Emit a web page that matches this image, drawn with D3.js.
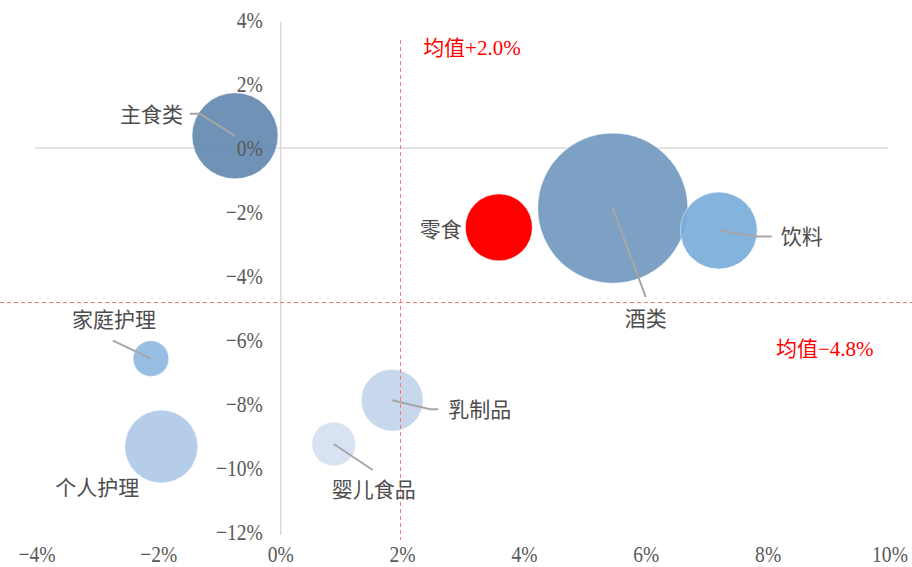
<!DOCTYPE html>
<html>
<head>
<meta charset="utf-8">
<script src="https://cdn.jsdelivr.net/npm/d3@7"></script>
<style>
	body { margin: 0; background: #fff; }
	.tick-label { font-family: "Liberation Serif", serif; font-size: 23px; fill: #595959; }
	.cat-label { font-family: "Noto Sans CJK SC", sans-serif; font-size: 21px; fill: #4d4d4d; }
	.mean-label { font-family: "Liberation Serif", "Noto Sans CJK SC", serif; font-size: 21px; fill: #ff0000; }
</style>
</head>
<body>
<script>
// category data
const categories = ["主食类", "零食", "酒类", "饮料", "家庭护理", "个人护理", "乳制品", "婴儿食品"];
const growthX = [-0.75, 3.58, 5.45, 7.19, -2.13, -1.96, 1.83, 0.87];
const growthY = [0.38, -2.48, -1.88, -2.58, -6.58, -9.33, -7.88, -9.25];
const sizes = [18.5, 11.2, 56.3, 14.8, 3.2, 13.3, 9.6, 4.8];
const colors = ["#6489b0", "#ff0000", "#7299bf", "#7aaddb", "#8fb9e2", "#b0c9e8", "#c2d5ec", "#d5e0f1"];

const xTicks = [-4, -2, 0, 2, 4, 6, 8, 10];
const yTicks = [4, 2, 0, -2, -4, -6, -8, -10, -12];

const meanX = 1.96;
const meanY = -4.8;

// label layout: elbow points (relative to bubble centre) and text anchor
const labelLayout = {
	"主食类": { pts: [[-35, -22], [-45, -22]], tx: -52, ty: -21, anchor: "end" },
	"零食": { pts: null, tx: -37, ty: 2, anchor: "end" },
	"酒类": { pts: [[33, 89]], tx: 33, ty: 110, anchor: "middle" },
	"饮料": { pts: [[39, 6], [53, 6]], tx: 62, ty: 6, anchor: "start" },
	"家庭护理": { pts: [[-38, -18]], tx: -37, ty: -39, anchor: "middle" },
	"个人护理": { pts: null, tx: -64, ty: 41, anchor: "middle" },
	"乳制品": { pts: [[38, 9], [46, 9]], tx: 56, ty: 9, anchor: "start" },
	"婴儿食品": { pts: [[39, 26]], tx: 40, ty: 46, anchor: "middle" }
};

const width = 912, height = 567;

let svg = d3.select("body").append("svg")
	.attr("width", width)
	.attr("height", height);

let x = d3.scaleLinear().domain([-4, 10]).range([37, 890]);
let y = d3.scaleLinear().domain([-12, 4]).range([532, 20]);
let r = d3.scaleSqrt().domain([0, 56.3]).range([0, 75]);

let data = categories.map((c, i) => ({
	name: c, gx: growthX[i], gy: growthY[i], size: sizes[i], color: colors[i]
}));

//axis lines
svg.append("line")
	.attr("x1", x(-4) - 2).attr("x2", x(10) - 2)
	.attr("y1", y(0)).attr("y2", y(0))
	.attr("stroke", "#d9d9d9").attr("stroke-width", 1.5);
svg.append("line")
	.attr("x1", x(0)).attr("x2", x(0))
	.attr("y1", y(4) + 2).attr("y2", y(-12) + 3)
	.attr("stroke", "#d9d9d9").attr("stroke-width", 1.5);

//bubbles, biggest first
let sorted = data.slice().sort((a, b) => b.size - a.size);
svg.selectAll("circle")
	.data(sorted)
	.enter().append("circle")
	.attr("cx", d => x(d.gx))
	.attr("cy", d => y(d.gy))
	.attr("r", d => r(d.size))
	.attr("fill", d => d.color)
	.attr("fill-opacity", d => d.name == "零食" ? 1 : 0.92)
	.attr("stroke", "#fff")
	.attr("stroke-opacity", 0.6)
	.attr("stroke-width", 0.8);

//tick labels (narrow serif look)
let fmt = d => (d < 0 ? "\u2212" : "") + Math.abs(d) + "%";
svg.selectAll("text.xt")
	.data(xTicks)
	.enter().append("text")
	.attr("class", "tick-label xt")
	.attr("transform", d => `translate(${x(d)},562) scale(0.85,1)`)
	.attr("text-anchor", "middle")
	.text(fmt);

svg.selectAll("text.yt")
	.data(yTicks)
	.enter().append("text")
	.attr("class", "tick-label yt")
	.attr("transform", d => `translate(${x(0) - 18},${y(d) + 8}) scale(0.85,1)`)
	.attr("text-anchor", "end")
	.text(fmt);

//mean lines
svg.append("line")
	.attr("x1", Math.round(x(meanX)) + 0.5).attr("x2", Math.round(x(meanX)) + 0.5)
	.attr("y1", 40).attr("y2", 540)
	.attr("stroke", "#f4777a").attr("stroke-width", 1)
	.attr("stroke-dasharray", "4,3");
svg.append("line")
	.attr("x1", 0).attr("x2", width)
	.attr("y1", Math.round(y(meanY)) + 0.5).attr("y2", Math.round(y(meanY)) + 0.5)
	.attr("stroke", "#f4777a").attr("stroke-width", 1)
	.attr("stroke-dasharray", "4,3");

svg.append("text")
	.attr("class", "mean-label")
	.attr("x", x(meanX) + 23)
	.attr("y", 55)
	.text("均值+" + meanX.toFixed(1) + "%");
svg.append("text")
	.attr("class", "mean-label")
	.attr("x", 776)
	.attr("y", y(meanY) + 54)
	.text("均值\u2212" + Math.abs(meanY).toFixed(1) + "%");

//leader lines
let line = d3.line();
data.forEach(d => {
	let lay = labelLayout[d.name];
	let cx = x(d.gx), cy = y(d.gy);
	if (lay.pts) {
		let p = [[cx, cy]].concat(lay.pts.map(q => [cx + q[0], cy + q[1]]));
		svg.append("path")
			.attr("d", line(p))
			.attr("fill", "none")
			.attr("stroke", "#a6a6a6")
			.attr("stroke-width", 2);
	}
	svg.append("text")
		.attr("class", "cat-label")
		.attr("x", cx + lay.tx)
		.attr("y", cy + lay.ty)
		.attr("dy", "0.35em")
		.attr("text-anchor", lay.anchor)
		.text(d.name);
});
</script>
</body>
</html>
